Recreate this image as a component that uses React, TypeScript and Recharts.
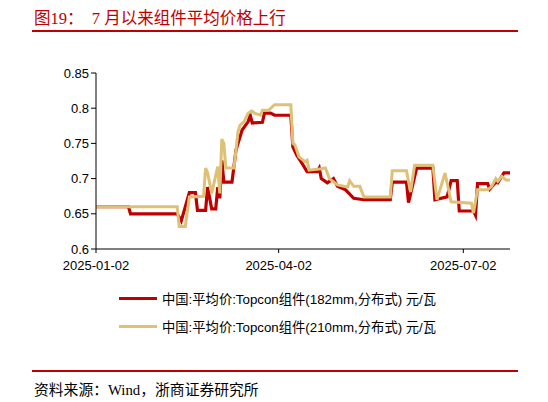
import { CartesianGrid, Line, LineChart, XAxis, YAxis } from "recharts";

// days counted from 2025-01-02
const days182 = [0, 16, 17, 40, 42, 46, 49, 50, 54, 55, 57, 59, 60, 61, 62, 63, 67, 69, 72, 75, 76, 77, 82, 83, 86, 88, 96, 97, 99, 101, 104, 109, 110, 111, 114, 117, 119, 123, 127, 132, 145, 146, 153, 154, 158, 166, 167, 173, 175, 178, 179, 186, 187, 188, 193, 194, 197, 198, 201, 204];
const price182 = [0.66, 0.66, 0.65, 0.65, 0.64, 0.68, 0.68, 0.655, 0.655, 0.688, 0.657, 0.657, 0.688, 0.672, 0.726, 0.695, 0.695, 0.741, 0.769, 0.781, 0.79, 0.779, 0.78, 0.793, 0.793, 0.79, 0.79, 0.745, 0.733, 0.724, 0.71, 0.71, 0.715, 0.7, 0.694, 0.7, 0.689, 0.684, 0.672, 0.67, 0.67, 0.695, 0.695, 0.666, 0.715, 0.715, 0.67, 0.674, 0.697, 0.697, 0.654, 0.654, 0.648, 0.693, 0.693, 0.685, 0.695, 0.694, 0.708, 0.708];

const days210 = [0, 40, 41, 44, 46, 53, 54, 55, 57, 60, 61, 62, 63, 64, 68, 70, 71, 73, 75, 77, 78, 81, 82, 85, 88, 96, 97, 98, 100, 103, 104, 105, 111, 113, 115, 119, 124, 125, 127, 130, 132, 145, 146, 153, 155, 157, 166, 168, 172, 175, 185, 186, 188, 193, 195, 197, 198, 200, 202, 204];
const price210 = [0.66, 0.66, 0.632, 0.632, 0.674, 0.675, 0.715, 0.708, 0.679, 0.717, 0.679, 0.756, 0.75, 0.715, 0.715, 0.767, 0.776, 0.781, 0.793, 0.796, 0.793, 0.79, 0.797, 0.797, 0.805, 0.805, 0.75, 0.748, 0.731, 0.724, 0.726, 0.712, 0.714, 0.715, 0.7, 0.691, 0.688, 0.697, 0.689, 0.689, 0.674, 0.674, 0.711, 0.711, 0.681, 0.719, 0.719, 0.67, 0.708, 0.667, 0.665, 0.651, 0.684, 0.684, 0.689, 0.7, 0.696, 0.703, 0.698, 0.698];

const xTickDays = [0, 90, 181];
const xTickLabels = ["2025-01-02", "2025-04-02", "2025-07-02"];
const yTicks = [0.6, 0.65, 0.7, 0.75, 0.8, 0.85];

const seriesNames = [
  "中国:平均价:Topcon组件(182mm,分布式) 元/瓦",
  "中国:平均价:Topcon组件(210mm,分布式) 元/瓦"
];
const RED = "#c00000";
const GOLD = "#dfc176";

const data182 = days182.map((d, i) => ({ day: d, value: price182[i] }));
const data210 = days210.map((d, i) => ({ day: d, value: price210[i] }));

const sans = "'Liberation Sans', Arial, 'Noto Sans CJK SC', sans-serif";
const serif = "'Liberation Serif', 'Times New Roman', 'Noto Sans CJK SC', serif";

export default function App() {
  return (
    <div style={{ position: "absolute", left: 0, top: 0, width: 548, height: 402, background: "#fff", overflow: "hidden" }}>
      <div style={{ position: "absolute", left: 34, top: 5, fontFamily: serif, fontSize: 16.5, color: RED, whiteSpace: "pre" }}>
        {"图19：  7 月以来组件平均价格上行"}
      </div>
      <div style={{ position: "absolute", left: 32, top: 30, width: 486, height: 1.5, background: RED }} />

      <div style={{ position: "absolute", left: 0, top: 0 }}>
        <LineChart width={548} height={280} margin={{ top: 73, right: 38, bottom: 1, left: 36 }}>
          <CartesianGrid vertical={false} horizontal={false} />
          <XAxis
            type="number"
            dataKey="day"
            domain={[0, 204]}
            ticks={xTickDays}
            tickFormatter={(v: number) => xTickLabels[xTickDays.indexOf(v)] ?? ""}
            allowDuplicatedCategory={false}
            axisLine={{ stroke: "#7f7f7f", strokeWidth: 2 }}
            tickLine={{ stroke: "#000" }}
            tickSize={4}
            tickMargin={8}
            tick={{ fontSize: 13, fill: "#000", fontFamily: sans }}
            height={30}
          />
          <YAxis
            type="number"
            domain={[0.6, 0.85]}
            ticks={yTicks}
            tickFormatter={(v: number) => String(v)}
            axisLine={{ stroke: "#000" }}
            tickLine={{ stroke: "#000" }}
            tickSize={5}
            tick={{ fontSize: 13, fill: "#000", fontFamily: sans }}
            width={60}
          />
          <Line data={data182} dataKey="value" type="linear" stroke={RED} strokeWidth={3.2} dot={false} isAnimationActive={false} />
          <Line data={data210} dataKey="value" type="linear" stroke={GOLD} strokeWidth={3} dot={false} isAnimationActive={false} />
        </LineChart>
      </div>

      {seriesNames.map((name, i) => (
        <div key={name} style={{ position: "absolute", left: 119, top: 289 + i * 28, display: "flex", alignItems: "center", fontFamily: sans, fontSize: 13.3, color: "#000", whiteSpace: "pre" }}>
          <div style={{ width: 38, height: 3, background: i === 0 ? RED : GOLD, marginRight: 5 }} />
          <span>{name}</span>
        </div>
      ))}

      <div style={{ position: "absolute", left: 32, top: 370, width: 486, height: 1.5, background: RED }} />
      <div style={{ position: "absolute", left: 34, top: 378, fontFamily: serif, fontSize: 14.8, color: "#000", whiteSpace: "pre" }}>
        {"资料来源：Wind，浙商证券研究所"}
      </div>
    </div>
  );
}
